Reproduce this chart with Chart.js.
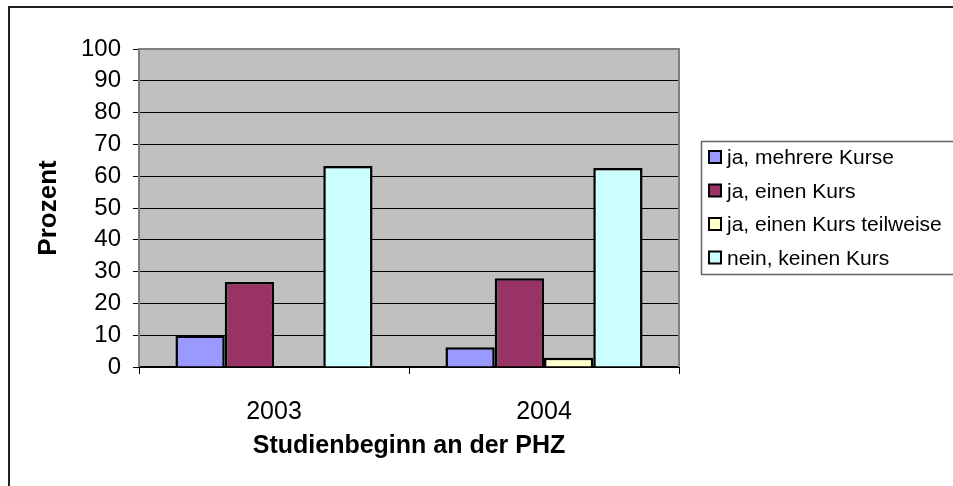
<!DOCTYPE html>
<html>
<head>
<meta charset="utf-8">
<script src="https://cdn.jsdelivr.net/npm/chart.js@4.4.1/dist/chart.umd.min.js"></script>
<style>
  html, body { margin: 0; padding: 0; background: #fff; overflow: hidden; }
  #wrap { width: 953px; height: 486px; }
</style>
</head>
<body>
<div id="wrap"><canvas id="kursChart" width="953" height="486"></canvas></div>
<script>
const years = ['2003', '2004'];
const seriesNames = ['ja, mehrere Kurse', 'ja, einen Kurs', 'ja, einen Kurs teilweise', 'nein, keinen Kurs'];
const mehrereKurse = [9.9, 6.2];
const einenKurs = [26.7, 27.9];
const teilweise = [0, 2.9];
const keinenKurs = [63.2, 62.6];
const yTicks = [0, 10, 20, 30, 40, 50, 60, 70, 80, 90, 100];

const colors = ['#9999FF', '#993366', '#FFFFCC', '#CCFFFF'];
const FONT = '"Liberation Sans", Arial, sans-serif';

// grey plot background, frame, legend
const decor = {
    id: 'decor',
    beforeDraw(chart) {
        const c = chart.ctx, a = chart.chartArea;
        c.save();
        c.fillStyle = '#fff';
        c.fillRect(0, 0, chart.width, chart.height);
        c.fillStyle = '#C0C0C0';
        c.fillRect(a.left, a.top, a.right - a.left, a.bottom - a.top);
        c.restore();
    },
    beforeDatasetsDraw(chart) {
        const c = chart.ctx, a = chart.chartArea;
        c.save();
        c.strokeStyle = '#808080';
        c.lineWidth = 2;
        c.beginPath();
        c.moveTo(a.left, a.bottom);
        c.lineTo(a.left, a.top);
        c.lineTo(a.right, a.top);
        c.lineTo(a.right, a.bottom);
        c.stroke();
        c.restore();
    },
    afterDraw(chart) {
        const c = chart.ctx;
        c.save();
        // outer frame (cut off at right/bottom)
        c.strokeStyle = '#222';
        c.lineWidth = 2;
        c.strokeRect(9, 7, 1000, 1000);
        // legend
        c.strokeStyle = '#666';
        c.lineWidth = 1.5;
        c.strokeRect(701.5, 141.5, 400, 133);
        c.font = '21px ' + FONT;
        c.textBaseline = 'middle';
        c.textAlign = 'left';
        chart.data.datasets.forEach((ds, i) => {
            const y = 157.5 + i * 33.5;
            c.fillStyle = ds.backgroundColor;
            c.fillRect(709, y - 6.5, 12, 12);
            c.strokeStyle = '#000';
            c.lineWidth = 2;
            c.strokeRect(709, y - 6.5, 12, 12);
            c.fillStyle = '#000';
            c.fillText(ds.label, 727, y + 1);
        });
        c.restore();
    }
};

const series = [mehrereKurse, einenKurs, teilweise, keinenKurs];

const chart = new Chart(document.getElementById('kursChart').getContext('2d'), {
    type: 'bar',
    data: {
        labels: years,
        datasets: series.map((d, i) => ({
            label: seriesNames[i],
            data: d,
            backgroundColor: colors[i],
            borderColor: '#000',
            borderWidth: 2.5,
            borderSkipped: 'bottom',
            categoryPercentage: 0.73,
            barPercentage: 1
        }))
    },
    options: {
        responsive: false,
        animation: false,
        devicePixelRatio: 1,
        layout: { padding: { top: 49, right: 274, left: 0, bottom: 0 } },
        plugins: {
            legend: { display: false },
            tooltip: { enabled: false }
        },
        scales: {
            x: {
                afterFit(s) { s.height = 486 - 367; },
                grid: {
                    offset: true,
                    drawOnChartArea: false,
                    drawTicks: true,
                    tickLength: 7,
                    tickColor: '#000',
                    tickWidth: 1
                },
                border: { display: true, color: '#000', width: 2 },
                ticks: {
                    color: '#000',
                    font: { family: FONT, size: 25 },
                    padding: 23
                },
                title: {
                    display: true,
                    text: 'Studienbeginn an der PHZ',
                    color: '#000',
                    font: { family: FONT, size: 25, weight: 'bold' },
                    padding: { top: 0, bottom: 25 }
                }
            },
            y: {
                min: 0,
                max: 100,
                afterFit(s) { s.width = 139; },
                afterBuildTicks(s) { s.ticks = yTicks.map(v => ({ value: v })); },
                grid: {
                    color: ctx => (ctx.tick && (ctx.tick.value === 100 || ctx.tick.value === 0)) ? 'rgba(0,0,0,0)' : '#000',
                    lineWidth: 1,
                    drawTicks: true,
                    tickLength: 6,
                    tickColor: '#000'
                },
                border: { display: false },
                ticks: {
                    color: '#000',
                    font: { family: FONT, size: 24 },
                    padding: 12
                },
                title: {
                    display: true,
                    text: 'Prozent',
                    color: '#000',
                    font: { family: FONT, size: 26, weight: 'bold' },
                    padding: { top: 33, bottom: 0 }
                }
            }
        }
    },
    plugins: [decor]
});
</script>
</body>
</html>
